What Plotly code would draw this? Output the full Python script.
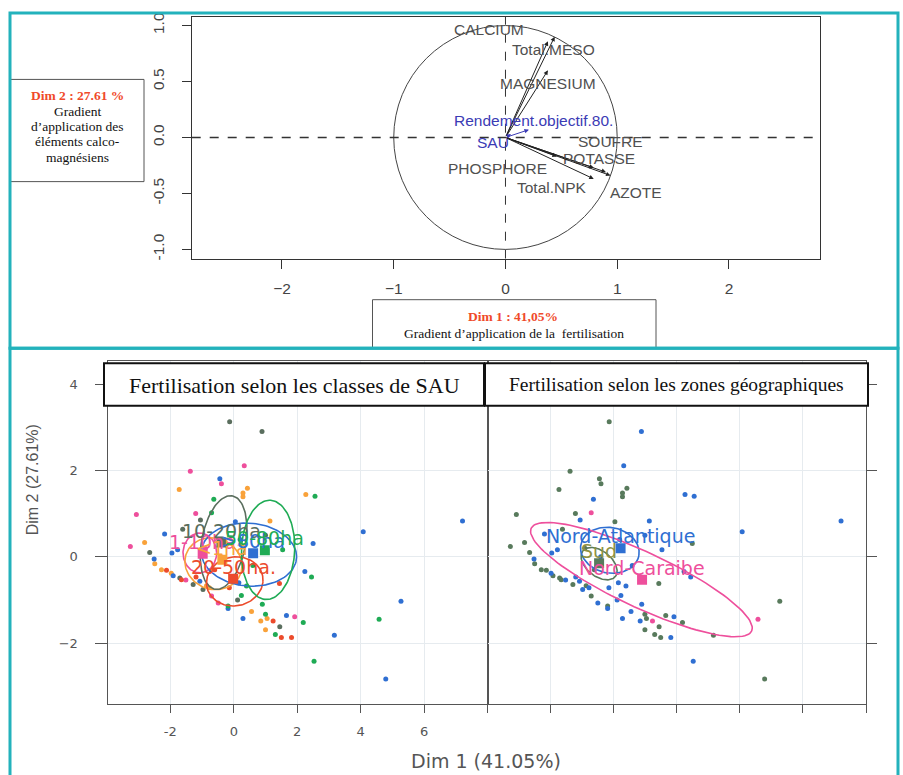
import numpy as np
import plotly.graph_objects as go

W, H = 903, 775
def fx(px): return px / W
def fy(py): return 1 - py / H

# ---------------- Top panel: variables factor map ----------------
var_names = ["CALCIUM", "Total.MESO", "MAGNESIUM", "Rendement.objectif.80.", "SAU",
             "SOUFRE", "POTASSE", "PHOSPHORE", "Total.NPK", "AZOTE"]
var_dim1 = [0.44, 0.38, 0.38, 0.21, 0.05, 0.90, 0.79, 0.46, 0.79, 0.94]
var_dim2 = [0.90, 0.86, 0.60, 0.07, 0.03, -0.31, -0.27, -0.17, -0.37, -0.34]
var_label_x = [-0.15, 0.43, 0.38, 0.25, -0.115, 0.94, 0.84, -0.07, 0.42, 1.17]
var_label_y = [0.965, 0.785, 0.48, 0.15, -0.045, -0.04, -0.19, -0.28, -0.45, -0.49]
var_supp = [False, False, False, True, True, False, False, False, False, False]

# ---------------- Bottom panels: individuals ----------------
ind_dim1 = [-0.13, 0.89, 0.33, -1.37, -0.44, -0.39, -1.72, 0.43, 0.29, 0.29,
            2.27, 2.56, -0.63, -3.07, -1.20, -0.70, -2.18, -2.81, -3.26, -2.65,
            -2.51, -2.49, -2.28, -2.12, -1.97, -1.91, -1.70, -1.65, -1.51, -1.28,
            -1.07, -0.97, -0.86, -0.70, -0.49, -0.18, -0.18, 0.12, 0.24, 0.40,
            0.90, 0.29, 0.56, 0.85, 1.00, 1.05, 1.24, 1.00, 1.31, 1.45,
            1.50, 1.82, 1.66, 1.92, 2.19, 2.24, 2.45, 2.50, 1.14, 2.53,
            3.17, 4.58, 5.27, 7.21, 4.08, 4.79, 1.44, -1.05, 0.05, -1.95,
            -1.77, -1.19, -0.77, -0.14, 0.16, 1.54, -1.61, -0.90, -0.40, 0.60,
            0.20, -0.60, 1.00]
ind_dim2 = [3.13, 2.90, 2.11, 1.98, 1.81, 1.69, 1.56, 1.59, 1.48, 1.39,
            1.44, 1.40, 1.33, 0.98, 1.00, 1.02, 0.53, 0.33, 0.24, 0.10,
            -0.05, -0.16, -0.30, -0.31, -0.38, -0.44, -0.49, -0.53, -0.54, -0.64,
            -0.57, -0.76, -0.67, -0.91, -1.07, -1.14, -1.20, -1.00, -0.90, -0.68,
            -1.10, -1.43, -1.27, -1.49, -1.33, -1.43, -1.49, -1.69, -1.80, -1.62,
            -1.87, -1.87, -1.36, -1.39, -1.52, -0.34, -0.47, 0.31, 0.83, -2.42,
            -1.82, -1.45, -1.03, 0.83, 0.58, -2.83, -0.62, 0.85, 0.81, 0.09,
            0.16, -0.47, -0.72, -0.72, -0.60, 0.16, 0.64, 0.20, 0.00, -0.20,
            0.40, -0.30, 0.50]
ind_sau = ["G", "G", "P", "P", "B", "P", "O", "O", "O", "O",
           "O", "V", "V", "P", "P", "V", "B", "O", "P", "G",
           "B", "O", "O", "R", "O", "B", "G", "R", "P", "G",
           "B", "G", "O", "P", "P", "V", "B", "G", "V", "V",
           "V", "B", "O", "O", "V", "O", "R", "O", "V", "G",
           "R", "R", "B", "P", "V", "B", "V", "B", "O", "V",
           "B", "V", "B", "B", "B", "B", "R", "G", "B", "B",
           "B", "R", "O", "R", "B", "V", "G", "P", "O", "V",
           "B", "R", "G"]
ind_zone = ["S", "NA", "NA", "S", "S", "S", "S", "S", "S", "S",
            "NA", "NA", "NA", "S", "S", "NC", "NA", "S", "S", "S",
            "NA", "S", "S", "S", "NA", "S", "S", "S", "NA", "S",
            "NA", "NA", "S", "S", "NA", "S", "NA", "NA", "NA", "NA",
            "NA", "NA", "NA", "NA", "S", "S", "NC", "S", "S", "S",
            "S", "NA", "S", "NA", "S", "NA", "NA", "S", "NA", "NA",
            "S", "NC", "S", "NA", "NA", "S", "S", "NA", "S", "NA",
            "NA", "NA", "NA", "NA", "NA", "NA", "S", "S", "NA", "NA",
            "NA", "S", "NA"]

sau_codes = ["P", "O", "G", "R", "B", "V"]
sau_names = ["1-10ha", "<1ha", "10-20ha", "20-50ha.", ">80ha", "50-80ha"]
sau_colors = ["#ee4f9c", "#f9a23a", "#5a6e5e", "#ec4b2c", "#2f6fd2", "#1fab55"]
sau_cent_x = [-0.98, -0.36, -0.39, -0.02, 0.61, 0.98]
sau_cent_y = [0.07, -0.07, 0.33, -0.51, 0.08, 0.15]
sau_ell_c = [(-1.07, 0.09), (-0.64, -0.16), (-0.32, 0.33), (0.03, -0.57), (0.48, 0.05), (1.08, 0.16)]
sau_ell_u = [(0.53, 0.0), (0.90, -0.05), (0.72, 0.10), (0.89, 0.0), (1.50, -0.05), (0.84, 0.0)]
sau_ell_v = [(0.0, 0.46), (0.0, 0.60), (0.15, 1.08), (0.05, 0.57), (0.0, 0.73), (0.05, 1.15)]

zone_codes = ["S", "NA", "NC"]
zone_names = ["Sud", "Nord-Atlantique", "Nord-Caraibe"]
zone_colors = ["#587a5c", "#2f6fd2", "#ee4f9c"]
zone_label_colors = ["#8e9142", "#2f6fd2", "#ee4f9c"]
zone_cent_x = [-0.45, 0.23, 0.91]
zone_cent_y = [-0.15, 0.20, -0.53]
zone_ell_c = [(-0.45, -0.16), (-0.11, 0.15), (0.89, -0.53)]
zone_ell_u = [(0.55, -0.25), (0.92, -0.12), (3.49, -1.19)]
zone_ell_v = [(0.15, 0.28), (0.12, 0.52), (-0.37, -0.58)]

SANS = "Liberation Sans, Arial, sans-serif"
WIDE = "DejaVu Sans, sans-serif"
SERIF = "Liberation Serif, Times New Roman, serif"
TEAL = "#23b2bc"

fig = go.Figure()

# ---- top panel invisible anchor trace
fig.add_trace(go.Scatter(x=var_dim1, y=var_dim2, mode="markers",
                         marker=dict(size=1, color="rgba(0,0,0,0)"),
                         xaxis="x", yaxis="y", showlegend=False, hoverinfo="skip"))

annotations = []
for name, x, y, lx, ly, supp in zip(var_names, var_dim1, var_dim2, var_label_x, var_label_y, var_supp):
    col = "#3b3bb5" if supp else "#222222"
    annotations.append(dict(x=x, y=y, ax=0, ay=0, xref="x", yref="y", axref="x", ayref="y",
                            text="", showarrow=True, arrowhead=2, arrowsize=0.9,
                            arrowwidth=1, arrowcolor=col, standoff=0))
    annotations.append(dict(x=lx, y=ly, xref="x", yref="y", text=name, showarrow=False,
                            xanchor="center", yanchor="middle",
                            font=dict(family=SANS, size=15.5,
                                      color="#3b3bb5" if supp else "#505050")))

shapes = []
shapes.append(dict(type="circle", xref="x", yref="y", x0=-1, y0=-1, x1=1, y1=1,
                   line=dict(color="#444", width=1)))
shapes.append(dict(type="line", xref="x", yref="y", x0=0, x1=0, y0=-1.083, y1=1.080,
                   line=dict(color="#333", width=1, dash="dash")))
shapes.append(dict(type="line", xref="x", yref="y", x0=-2.808, x1=2.813, y0=0, y1=0,
                   line=dict(color="#333", width=1.6, dash="dash")))

# ---- bottom panels
def ell(c, u, v):
    t = np.linspace(0, 2 * np.pi, 120)
    return (c[0] + u[0] * np.cos(t) + v[0] * np.sin(t),
            c[1] + u[1] * np.cos(t) + v[1] * np.sin(t))

ix = np.array(ind_dim1); iy = np.array(ind_dim2)
sau_arr = np.array(ind_sau); zone_arr = np.array(ind_zone)

for code, col in zip(sau_codes, sau_colors):
    m = sau_arr == code
    fig.add_trace(go.Scatter(x=ix[m], y=iy[m], mode="markers", xaxis="x2", yaxis="y2",
                             marker=dict(size=5, color=col), showlegend=False))
for code, col in zip(zone_codes, zone_colors):
    m = zone_arr == code
    fig.add_trace(go.Scatter(x=ix[m], y=iy[m], mode="markers", xaxis="x3", yaxis="y3",
                             marker=dict(size=5, color=col), showlegend=False))

for i, col in enumerate(sau_colors):
    ex, ey = ell(sau_ell_c[i], sau_ell_u[i], sau_ell_v[i])
    fig.add_trace(go.Scatter(x=ex, y=ey, mode="lines", xaxis="x2", yaxis="y2",
                             line=dict(color=col, width=1.6), showlegend=False, hoverinfo="skip"))
for i, col in enumerate(zone_colors):
    ex, ey = ell(zone_ell_c[i], zone_ell_u[i], zone_ell_v[i])
    fig.add_trace(go.Scatter(x=ex, y=ey, mode="lines", xaxis="x3", yaxis="y3",
                             line=dict(color=col, width=1.6), showlegend=False, hoverinfo="skip"))

fig.add_trace(go.Scatter(x=sau_cent_x, y=sau_cent_y, mode="markers", xaxis="x2", yaxis="y2",
                         marker=dict(symbol="square", size=10, color=sau_colors), showlegend=False))
fig.add_trace(go.Scatter(x=zone_cent_x, y=zone_cent_y, mode="markers", xaxis="x3", yaxis="y3",
                         marker=dict(symbol="square", size=10, color=zone_colors), showlegend=False))

for n, x, y, col in zip(sau_names, sau_cent_x, sau_cent_y, sau_colors):
    annotations.append(dict(x=x, y=y, xref="x2", yref="y2", yshift=12, text=n, showarrow=False,
                            xanchor="center", yanchor="middle",
                            font=dict(family=WIDE, size=19, color=col)))
for n, x, y, col in zip(zone_names, zone_cent_x, zone_cent_y, zone_label_colors):
    annotations.append(dict(x=x, y=y, xref="x3", yref="y3", yshift=12, text=n, showarrow=False,
                            xanchor="center", yanchor="middle",
                            font=dict(family=WIDE, size=19, color=col)))

# ---- boxes and frames
shapes.append(dict(type="rect", xref="paper", yref="paper", x0=fx(10), x1=fx(144), y0=fy(179), y1=fy(76),
                   line=dict(color="#555", width=1), fillcolor="white", layer="above"))
shapes.append(dict(type="rect", xref="paper", yref="paper", x0=fx(372.5), x1=fx(656), y0=fy(347), y1=fy(298),
                   line=dict(color="#555", width=1), fillcolor="white", layer="above"))
shapes.append(dict(type="rect", xref="paper", yref="paper", x0=fx(104), x1=fx(484), y0=fy(405), y1=fy(362),
                   line=dict(color="#111", width=2), fillcolor="white", layer="above"))
shapes.append(dict(type="rect", xref="paper", yref="paper", x0=fx(485), x1=fx(868), y0=fy(405), y1=fy(362),
                   line=dict(color="#111", width=2), fillcolor="white", layer="above"))
shapes.append(dict(type="rect", xref="paper", yref="paper", x0=fx(10), x1=fx(898), y0=fy(347), y1=fy(9),
                   line=dict(color=TEAL, width=3), layer="above"))
shapes.append(dict(type="rect", xref="paper", yref="paper", x0=fx(10), x1=fx(898), y0=fy(785), y1=fy(347),
                   line=dict(color=TEAL, width=3), layer="above"))

def ptext(x, y, t, size, color, family, angle=0):
    annotations.append(dict(x=fx(x), y=fy(y), xref="paper", yref="paper", text=t, showarrow=False,
                            xanchor="center", yanchor="middle", textangle=angle,
                            font=dict(family=family, size=size, color=color)))

box_lines = [("<b>Dim 2 : 27.61 %</b>", "#f04a2a", 92), ("Gradient", "#111", 108),
             ("d\u2019application des", "#111", 123), ("\u00e9l\u00e9ments calco-", "#111", 139),
             ("magn\u00e9siens", "#111", 155)]
for t, c, py in box_lines:
    ptext(77, py, t, 13.5, c, SERIF)
ptext(513, 315, "<b>Dim 1 : 41,05%</b>", 13.5, "#f04a2a", SERIF)
ptext(514, 332, "Gradient d\u2019application de la  fertilisation", 13.5, "#111", SERIF)
ptext(294, 384, "Fertilisation selon les classes de SAU", 22, "#111", SERIF)
ptext(676.5, 383, "Fertilisation selon les zones g\u00e9ographiques", 19.5, "#111", SERIF)
ptext(486.5, 763, "Dim 1 (41.05%)", 19, "#555", WIDE)
ptext(32, 480, "Dim 2 (27.61%)", 16, "#555", SANS, angle=-90)

grid = "#e6ebef"
bx_range = [-3.98, 8.0]
by_range = [-3.40, 4.53]
fig.update_layout(
    width=W, height=H, margin=dict(l=0, r=0, t=0, b=0),
    paper_bgcolor="white", plot_bgcolor="white", showlegend=False,
    xaxis=dict(domain=[fx(191.7), fx(819.8)], range=[-2.808, 2.813], anchor="y",
               tickvals=[-2, -1, 0, 1, 2], ticks="outside", ticklen=9, tickcolor="#333",
               showline=True, mirror=True, linecolor="#333", showgrid=False, zeroline=False,
               tickfont=dict(family=SANS, size=15.5, color="#444"), ticklabelstandoff=7),
    yaxis=dict(domain=[fy(256.7), fy(12.7)], range=[-1.083, 1.080], anchor="x",
               tickvals=[-1, -0.5, 0, 0.5, 1], ticktext=["-1.0", "-0.5", "0.0", "0.5", "1.0"],
               tickangle=-90, ticks="outside", ticklen=9, tickcolor="#333",
               showline=True, mirror=True, linecolor="#333", showgrid=False, zeroline=False,
               tickfont=dict(family=SANS, size=15.5, color="#444"), ticklabelstandoff=12),
    xaxis2=dict(domain=[fx(107.5), fx(487.6)], range=bx_range, anchor="y2",
                tickvals=[-4, -2, 0, 2, 4, 6, 8], ticktext=["", "-2", "0", "2", "4", "6", ""],
                ticks="outside", ticklen=8, tickcolor="#555", showline=True, mirror=True,
                linecolor="#555", showgrid=True, gridcolor=grid, zeroline=False,
                tickfont=dict(family=WIDE, size=13, color="#555"), ticklabelstandoff=8),
    yaxis2=dict(domain=[fy(705), fy(360)], range=by_range, anchor="x2",
                tickvals=[-2, 0, 2, 4], ticks="outside", ticklen=12, tickcolor="#555",
                showline=True, mirror=True, linecolor="#555", showgrid=True, gridcolor=grid,
                zeroline=False, tickfont=dict(family=WIDE, size=13, color="#555"),
                ticklabelstandoff=14),
    xaxis3=dict(domain=[fx(487.6), fx(866)], range=bx_range, anchor="y3",
                tickvals=[-2, 0, 2, 4, 6, 8], showticklabels=False,
                ticks="outside", ticklen=8, tickcolor="#555", showline=True, mirror=True,
                linecolor="#555", showgrid=True, gridcolor=grid, zeroline=False),
    yaxis3=dict(domain=[fy(705), fy(360)], range=by_range, anchor="x3", side="right",
                tickvals=[-2, 0, 2, 4], showticklabels=False, ticks="outside", ticklen=10,
                tickcolor="#555", showline=True, mirror=True, linecolor="#555",
                showgrid=True, gridcolor=grid, zeroline=False),
    shapes=shapes, annotations=annotations,
)

fig.write_html("out.html", config={"displayModeBar": False},
               post_script="document.body.style.margin='0px';")
